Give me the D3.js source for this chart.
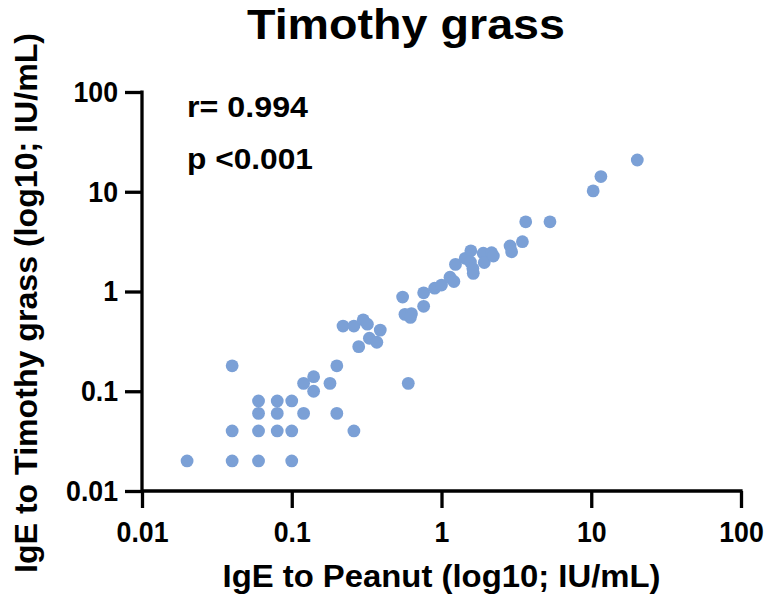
<!DOCTYPE html>
<html>
<head>
<meta charset="utf-8">
<script src="https://cdn.jsdelivr.net/npm/d3@7"></script>
<style>
  body { margin: 0; background: #fff; }
  svg text { font-family: Arial, "Liberation Sans", sans-serif; font-weight: bold; fill: #000; }
</style>
</head>
<body>
<div id="viz"></div>
<script>
// IgE to Peanut (x) vs IgE to Timothy grass (y), IU/mL
const peanut = [0.02, 0.04, 0.06, 0.1, 0.04, 0.06, 0.08, 0.1, 0.26, 0.06, 0.08, 0.12, 0.2,
  0.06, 0.08, 0.1, 0.04, 0.12, 0.14, 0.14, 0.18, 0.2, 0.28, 0.22, 0.26, 0.3, 0.32, 0.39,
  0.33, 0.37, 0.6, 0.55, 0.57, 0.63, 0.62, 0.76, 0.76, 0.9, 1.0, 1.14, 1.21, 1.24, 1.44,
  1.57, 1.56, 1.63, 1.62, 1.9, 1.93, 2.16, 2.22, 2.87, 2.94, 3.47, 3.65, 5.3, 10.3, 11.6, 20.3];
const timothy = [0.02, 0.02, 0.02, 0.02, 0.04, 0.04, 0.04, 0.04, 0.04, 0.06, 0.06, 0.06, 0.06,
  0.08, 0.08, 0.08, 0.18, 0.12, 0.14, 0.1, 0.12, 0.18, 0.28, 0.45, 0.45, 0.52, 0.47, 0.41,
  0.34, 0.31, 0.12, 0.88, 0.59, 0.6, 0.55, 0.97, 0.71, 1.08, 1.16, 1.39, 1.26, 1.87, 2.15,
  2.56, 1.98, 1.52, 1.7, 2.42, 1.95, 2.45, 2.27, 2.86, 2.5, 3.16, 5.0, 5.0, 10.2, 14.2, 20.8];
const tickValues = [0.01, 0.1, 1, 10, 100];
const tickLabels = ['0.01', '0.1', '1', '10', '100'];
const title = 'Timothy grass';
const xTitle = 'IgE to Peanut (log10; IU/mL)';
const yTitle = 'IgE to Timothy grass (log10; IU/mL)';
const stats = ['r= 0.994', 'p <0.001'];

const data = peanut.map((x, i) => ({ x, y: timothy[i] }));

const width = 765;
const height = 597;
const margin = { top: 92, right: 24, bottom: 106, left: 142 };
const boundedWidth = width - margin.left - margin.right;
const boundedHeight = height - margin.top - margin.bottom;

const svg = d3.select('#viz')
  .append('svg')
    .attr('width', width)
    .attr('height', height);

const viz = svg.append('g')
  .attr('transform', `translate(${margin.left}, ${margin.top})`);

const xScale = d3.scaleLog().domain([0.01, 100]).range([0, boundedWidth]);
const yScale = d3.scaleLog().domain([0.01, 100]).range([boundedHeight, 0]);

// axes
const fmt = d => tickLabels[tickValues.indexOf(d)];
const xAxis = viz.append('g')
  .attr('transform', `translate(0, ${boundedHeight})`)
  .call(d3.axisBottom(xScale).tickValues(tickValues).tickFormat(fmt).tickSize(17).tickPadding(13));
const yAxis = viz.append('g')
  .call(d3.axisLeft(yScale).tickValues(tickValues).tickFormat(fmt).tickSize(17).tickPadding(7));

[xAxis, yAxis].forEach(ax => {
  ax.select('.domain').remove();
  ax.selectAll('line').attr('stroke', '#000').attr('stroke-width', 3.3);
  ax.selectAll('text').style('font-size', '29px')
    .attr('textLength', function() { return this.getComputedTextLength() * 0.92; })
    .attr('lengthAdjust', 'spacingAndGlyphs');
});
viz.append('line')
  .attr('x1', 0).attr('x2', boundedWidth + 1.6)
  .attr('y1', boundedHeight).attr('y2', boundedHeight)
  .attr('stroke', '#000').attr('stroke-width', 3.3);
viz.append('line')
  .attr('x1', 0).attr('x2', 0)
  .attr('y1', -1.6).attr('y2', boundedHeight)
  .attr('stroke', '#000').attr('stroke-width', 3.3);

// points
viz.selectAll('circle')
  .data(data)
  .join('circle')
    .attr('cx', d => xScale(d.x))
    .attr('cy', d => yScale(d.y))
    .attr('r', 6.4)
    .attr('fill', '#7ba0d6');

// labels
svg.append('text')
  .attr('x', 406).attr('y', 39)
  .attr('text-anchor', 'middle')
  .attr('textLength', 318).attr('lengthAdjust', 'spacingAndGlyphs')
  .style('font-size', '42px')
  .text(title);

svg.append('text')
  .attr('x', margin.left + boundedWidth / 2).attr('y', 587)
  .attr('text-anchor', 'middle')
  .attr('textLength', 438).attr('lengthAdjust', 'spacingAndGlyphs')
  .style('font-size', '31px')
  .text(xTitle);

svg.append('text')
  .attr('transform', `translate(37, 303) rotate(-90)`)
  .attr('text-anchor', 'middle')
  .attr('textLength', 540).attr('lengthAdjust', 'spacingAndGlyphs')
  .style('font-size', '31px')
  .text(yTitle);

svg.selectAll('.stat')
  .data(stats)
  .join('text')
    .attr('class', 'stat')
    .attr('x', 187)
    .attr('y', (d, i) => 117 + i * 52)
    .attr('textLength', (d, i) => i === 0 ? 121 : 126)
    .attr('lengthAdjust', 'spacingAndGlyphs')
    .style('font-size', '29px')
    .text(d => d);
</script>
</body>
</html>
